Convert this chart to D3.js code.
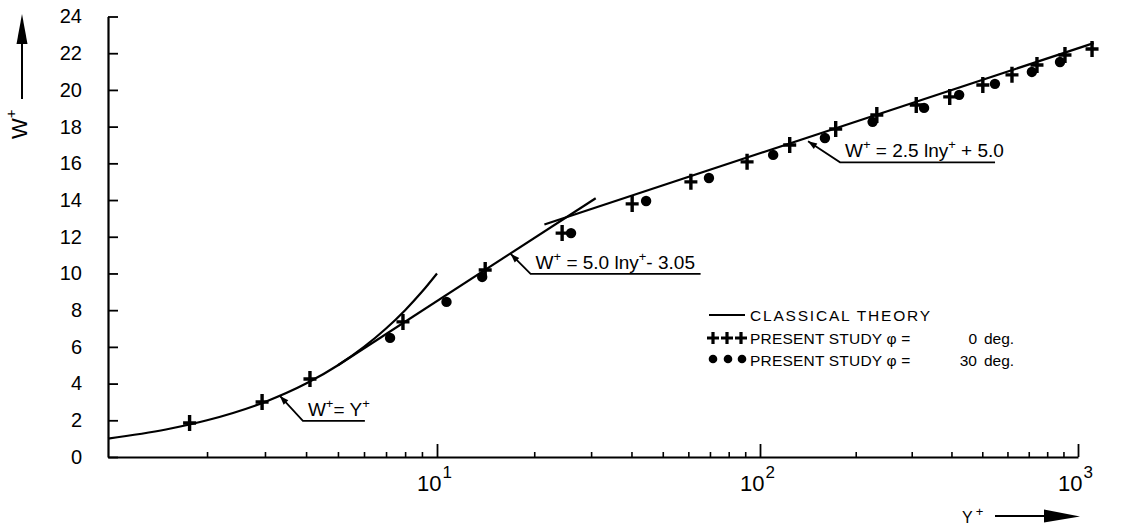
<!DOCTYPE html>
<html>
<head>
<meta charset="utf-8">
<script src="https://cdn.jsdelivr.net/npm/d3@7"></script>
<style>
  body { margin: 0; background: #fff; }
  svg { display: block; font-family: "Liberation Sans", Arial, sans-serif; }
  text { white-space: pre; fill: #000; }
</style>
</head>
<body>
<div id="chart"></div>
<script>
// values (y+ on log axis, W+ linear)
const crossYplus = [1.77, 2.94, 4.11, 7.88, 14.1, 24.4, 40.2, 61.1, 91.2, 124, 173, 233, 310, 395, 502, 620, 743, 910, 1107];
const crossW = [1.85, 3.0, 4.25, 7.36, 10.19, 12.2, 13.79, 14.99, 16.08, 17.0, 17.87, 18.63, 19.18, 19.62, 20.27, 20.82, 21.36, 21.9, 22.23];

const dotYplus = [7.2, 10.7, 13.8, 26.0, 44.4, 69.5, 110, 160, 226, 328, 423, 548, 716, 878];
const dotW = [6.49, 8.45, 9.81, 12.2, 13.95, 15.2, 16.46, 17.38, 18.26, 19.02, 19.73, 20.33, 20.98, 21.52];

// classical theory curves
const viscousYplus = [1, 1.5, 2, 3, 4, 5, 6, 7, 8, 9, 10];
const viscousW = [1, 1.5, 2, 3, 4, 5, 6, 7, 8, 9, 10];
const bufferYplus = [5, 31];
const bufferW = [5.0, 14.1];
const logLawYplus = [21.5, 1120];
const logLawW = [12.67, 22.55];

const yTicks = [0, 2, 4, 6, 8, 10, 12, 14, 16, 18, 20, 22, 24];
const xMajorTicks = [10, 100, 1000];
const xMajorExp = ["1", "2", "3"];
const xMinorTicks = [2, 3, 4, 5, 6, 7, 8, 9, 20, 30, 40, 50, 60, 70, 80, 90, 200, 300, 400, 500, 600, 700, 800, 900];

// annotations: label pieces and where the arrow touches the curve
const annotations = [
  { yplus: 3.33, w: 3.33, dx: 23, dy: 25, len: 62, parts: [["W"], ["+", 1], ["= Y"], ["+", 1]] },
  { yplus: 16.9, w: 11.07, dx: 20, dy: 20, len: 170, parts: [["W"], ["+", 1], [" = 5.0 lny"], ["+", 1], ["- 3.05"]] },
  { yplus: 141.6, w: 17.2, dx: 32, dy: 21, len: 155, parts: [["W"], ["+", 1], [" = 2.5 lny"], ["+", 1], [" + 5.0"]] }
];

const legendLabels = ["CLASSICAL THEORY", "PRESENT STUDY \u03c6 =", "PRESENT STUDY \u03c6 ="];
const legendAngles = ["0", "30"];

const width = 1121;
const height = 530;

const svg = d3.select("#chart")
  .append("svg")
  .attr("width", width)
  .attr("height", height);

svg.append("rect").attr("width", width).attr("height", height).attr("fill", "#fff");

const x = d3.scaleLog().domain([1, 10, 100, 1000]).range([108, 437, 760, 1078]);
const y = d3.scaleLinear().domain([0, 24]).range([457, 16.5]);

// y axis, ticks pointing inside
const yAxis = d3.axisLeft(y)
  .tickValues(yTicks)
  .tickSizeInner(-10)
  .tickSizeOuter(0)
  .tickPadding(26);

const yG = svg.append("g")
  .attr("transform", "translate(108,0)")
  .call(yAxis);
yG.select(".domain").attr("stroke-width", 2.2);
yG.selectAll(".tick line").attr("stroke-width", 1.8);
yG.selectAll(".tick text")
  .attr("font-size", 20)
  .attr("font-family", "Liberation Sans, Arial, sans-serif");

// x axis: minor and major ticks
const xMinor = d3.axisBottom(x)
  .tickValues(xMinorTicks)
  .tickSizeInner(-5)
  .tickSizeOuter(0)
  .tickFormat("");
const xMinorG = svg.append("g")
  .attr("transform", "translate(0,457)")
  .call(xMinor);
xMinorG.select(".domain").attr("stroke-width", 2.2);
xMinorG.selectAll(".tick line").attr("stroke-width", 1.6);

const xMajor = d3.axisBottom(x)
  .tickValues(xMajorTicks)
  .tickSizeInner(-13)
  .tickSizeOuter(0)
  .tickFormat("");
const xMajorG = svg.append("g")
  .attr("transform", "translate(0,457)")
  .call(xMajor);
xMajorG.select(".domain").remove();
xMajorG.selectAll(".tick line").attr("stroke-width", 1.8);

const xLabels = svg.append("g")
  .selectAll("text")
  .data(xMajorTicks)
  .join("text")
  .attr("x", (d) => x(d) - 20)
  .attr("y", 491)
  .attr("font-size", 22);
xLabels.append("tspan").text("10");
xLabels.append("tspan")
  .attr("dy", -13)
  .attr("dx", 1)
  .attr("font-size", 17)
  .text((d, i) => xMajorExp[i]);

// axis titles with arrows
svg.append("text")
  .attr("transform", "translate(27,139) rotate(-90)")
  .attr("font-size", 22)
  .call((t) => {
    t.append("tspan").text("W");
    t.append("tspan").attr("dy", -11).attr("font-size", 15).text("+");
  });
svg.append("line")
  .attr("x1", 22).attr("x2", 22)
  .attr("y1", 99).attr("y2", 40)
  .attr("stroke", "#000").attr("stroke-width", 2);
svg.append("path")
  .attr("d", "M22,14L16.5,44L27.5,44Z")
  .attr("fill", "#000");

svg.append("text")
  .attr("x", 962)
  .attr("y", 523)
  .attr("font-size", 16)
  .call((t) => {
    t.append("tspan").text("Y");
    t.append("tspan").attr("dy", -7).attr("dx", 3).attr("font-size", 13).text("+");
  });
svg.append("line")
  .attr("x1", 995).attr("x2", 1050)
  .attr("y1", 516).attr("y2", 516)
  .attr("stroke", "#000").attr("stroke-width", 2);
svg.append("path")
  .attr("d", "M1044,509.5L1080,516.5L1044,522.5Z")
  .attr("fill", "#000");

// classical theory curves
const curveLine = d3.line()
  .x((d) => x(d[0]))
  .y((d) => y(d[1]))
  .curve(d3.curveMonotoneX);

const curves = [
  d3.zip(viscousYplus, viscousW),
  d3.zip(bufferYplus, bufferW),
  d3.zip(logLawYplus, logLawW)
];

svg.append("g")
  .selectAll("path")
  .data(curves)
  .join("path")
  .attr("d", curveLine)
  .attr("fill", "none")
  .attr("stroke", "#000")
  .attr("stroke-width", 2.2);

// data points
svg.append("g")
  .selectAll("circle")
  .data(d3.zip(dotYplus, dotW))
  .join("circle")
  .attr("cx", (d) => x(d[0]))
  .attr("cy", (d) => y(d[1]))
  .attr("r", 5.2)
  .attr("fill", "#000");

const crossPath = "M-6.5,0H6.5M0,-8V8";
svg.append("g")
  .selectAll("path")
  .data(d3.zip(crossYplus, crossW))
  .join("path")
  .attr("transform", (d) => `translate(${x(d[0])},${y(d[1])})`)
  .attr("d", crossPath)
  .attr("stroke", "#000")
  .attr("stroke-width", 3.4)
  .attr("fill", "none");

// annotations with leader lines
annotations.forEach((a) => {
  const tx = x(a.yplus);
  const ty = y(a.w);
  const ex = tx + a.dx;
  const ey = ty + a.dy;
  const g = svg.append("g");
  g.append("path")
    .attr("d", `M${tx},${ty}L${ex},${ey}H${ex + a.len}`)
    .attr("fill", "none")
    .attr("stroke", "#000")
    .attr("stroke-width", 1.8);
  const ang = Math.atan2(a.dy, a.dx);
  g.append("path")
    .attr("d", "M0,0L9,-3.2L9,3.2Z")
    .attr("transform", `translate(${tx},${ty}) rotate(${(ang * 180) / Math.PI})`)
    .attr("fill", "#000");
  const t = g.append("text")
    .attr("x", ex + 5)
    .attr("y", ey - 5)
    .attr("font-size", 19);
  let raised = false;
  a.parts.forEach((p) => {
    const sp = t.append("tspan").text(p[0]);
    if (p[1] && !raised) {
      sp.attr("dy", -8).attr("font-size", 13);
      raised = true;
    } else if (!p[1] && raised) {
      sp.attr("dy", 8);
      raised = false;
    }
  });
});

// legend
const legend = svg.append("g").attr("font-size", 15.5);
legend.append("line")
  .attr("x1", 709).attr("x2", 745)
  .attr("y1", 315).attr("y2", 315)
  .attr("stroke", "#000").attr("stroke-width", 1.8);
legend.selectAll("text.lab")
  .data(legendLabels)
  .join("text")
  .attr("class", "lab")
  .attr("x", 750)
  .attr("y", (d, i) => 321 + i * 22.5)
  .attr("letter-spacing", (d, i) => (i === 0 ? 1.8 : 0.2))
  .text((d) => d);
legend.selectAll("text.ang")
  .data(legendAngles)
  .join("text")
  .attr("class", "ang")
  .attr("x", 977)
  .attr("y", (d, i) => 343.5 + i * 22.5)
  .attr("text-anchor", "end")
  .text((d) => d);
legend.selectAll("text.deg")
  .data(legendAngles)
  .join("text")
  .attr("class", "deg")
  .attr("x", 984)
  .attr("y", (d, i) => 343.5 + i * 22.5)
  .text("deg.");
legend.selectAll("path.lc")
  .data([713, 727, 741])
  .join("path")
  .attr("class", "lc")
  .attr("transform", (d) => `translate(${d},338)`)
  .attr("d", "M-6,0H6M0,-6V6")
  .attr("stroke", "#000")
  .attr("stroke-width", 3.2);
legend.selectAll("circle")
  .data([713, 728, 742])
  .join("circle")
  .attr("cx", (d) => d)
  .attr("cy", 359)
  .attr("r", 4.3)
  .attr("fill", "#000");
</script>
</body>
</html>
